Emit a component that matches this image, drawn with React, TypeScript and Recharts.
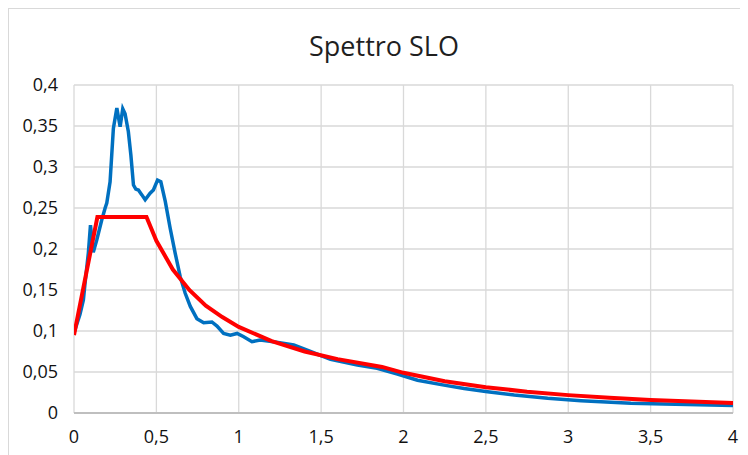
import { LineChart, Line, XAxis, YAxis, CartesianGrid } from 'recharts';

const title = 'Spettro SLO';

// recorded spectrum (blue)
const recordedT = [
  0, 0.02, 0.036, 0.057, 0.067, 0.087, 0.1, 0.117, 0.138, 0.168, 0.189, 0.199, 0.219, 0.239, 0.26,
  0.28, 0.296, 0.31, 0.33, 0.345, 0.361, 0.375, 0.391, 0.412, 0.432, 0.462, 0.482, 0.507, 0.527,
  0.554, 0.584, 0.614, 0.645, 0.675, 0.706, 0.746, 0.787, 0.837, 0.868, 0.908, 0.949, 0.99, 1.03,
  1.08, 1.13, 1.21, 1.334, 1.435, 1.557, 1.72, 1.84, 1.963, 2.085, 2.246, 2.368, 2.51, 2.672, 2.875,
  3.078, 3.38, 3.58, 4.0,
];
const recordedV = [
  0.098, 0.11, 0.12, 0.138, 0.158, 0.195, 0.229, 0.196, 0.211, 0.235, 0.25, 0.256, 0.282, 0.347,
  0.372, 0.349, 0.371, 0.365, 0.343, 0.315, 0.278, 0.273, 0.272, 0.266, 0.26, 0.268, 0.272, 0.284,
  0.282, 0.258, 0.225, 0.195, 0.166, 0.146, 0.13, 0.115, 0.11, 0.111, 0.106, 0.097, 0.095, 0.097,
  0.093, 0.087, 0.089, 0.087, 0.083, 0.075, 0.0655, 0.0585, 0.0545, 0.0476, 0.04, 0.034, 0.03,
  0.026, 0.022, 0.018, 0.015, 0.0118, 0.011, 0.009,
];

// design spectrum (red)
const designT = [
  0, 0.142, 0.44, 0.5, 0.6, 0.7, 0.8, 0.9, 1.0, 1.2, 1.4, 1.6, 1.87, 2.0, 2.25, 2.5, 2.75, 3.0,
  3.25, 3.5, 3.75, 4.0,
];
const designV = [
  0.095, 0.239, 0.239, 0.21, 0.175, 0.15, 0.131, 0.117, 0.105, 0.0876, 0.075, 0.0657, 0.0562,
  0.049, 0.0388, 0.0314, 0.026, 0.0218, 0.0186, 0.016, 0.014, 0.0123,
];

const xTicks = [0, 0.5, 1, 1.5, 2, 2.5, 3, 3.5, 4];
const yTicks = [0, 0.05, 0.1, 0.15, 0.2, 0.25, 0.3, 0.35, 0.4];

const recorded = recordedT.map((t, i) => ({ t, v: recordedV[i] }));
const design = designT.map((t, i) => ({ t, v: designV[i] }));

const font = '"Open Sans", sans-serif';
const comma = (n: number) => String(n).replace('.', ',');

export default function App() {
  return (
    <div
      style={{
        position: 'relative',
        width: 740,
        height: 447,
        borderLeft: '1px solid #d9d9d9',
        borderTop: '1px solid #d9d9d9',
        boxSizing: 'border-box',
        fontFamily: font,
      }}
    >
      <div
        style={{
          position: 'absolute',
          left: 0,
          width: 750,
          top: 18,
          textAlign: 'center',
          fontSize: 27,
          color: '#1f1f1f',
        }}
      >
        {title}
      </div>
      <LineChart width={739} height={446} margin={{ top: 76, right: 15, bottom: 12, left: 0 }}>
        <CartesianGrid stroke="#d9d9d9" strokeWidth={1.3} />
        <XAxis
          type="number"
          dataKey="t"
          domain={[0, 4]}
          ticks={xTicks}
          tickFormatter={comma}
          allowDataOverflow
          height={30}
          stroke="#bfbfbf"
          strokeWidth={2}
          tickLine={false}
          tickMargin={11}
          tick={{ fontSize: 18, fill: '#111', fontFamily: font }}
        />
        <YAxis
          type="number"
          domain={[0, 0.4]}
          ticks={yTicks}
          tickFormatter={comma}
          width={65}
          axisLine={false}
          tickLine={false}
          tickMargin={10}
          tick={{ fontSize: 18, fill: '#111', fontFamily: font }}
        />
        <Line
          data={recorded}
          dataKey="v"
          type="linear"
          stroke="#0070C0"
          strokeWidth={3.5}
          dot={false}
          isAnimationActive={false}
        />
        <Line
          data={design}
          dataKey="v"
          type="linear"
          stroke="#FF0000"
          strokeWidth={4}
          dot={false}
          isAnimationActive={false}
        />
      </LineChart>
    </div>
  );
}
